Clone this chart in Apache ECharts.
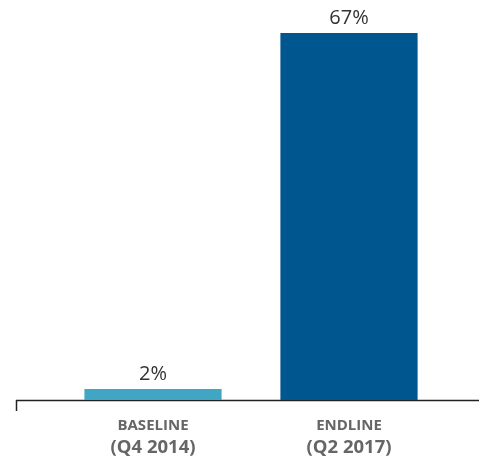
<!DOCTYPE html>
<html>
<head>
<meta charset="utf-8">
<script src="https://cdn.jsdelivr.net/npm/echarts@6/dist/echarts.min.js"></script>
<style>
  html, body { margin: 0; padding: 0; background: #fff; }
  #main { width: 479px; height: 458px; }
</style>
</head>
<body>
<div id="main"></div>
<script>
// 数据
var categories = ['BASELINE', 'ENDLINE'];
var periods = ['(Q4 2014)', '(Q2 2017)'];
var values = [2, 67];
var barColors = ['#41a5c4', '#00578f'];

var chartDom = document.getElementById('main');
var myChart = echarts.init(chartDom);
var option;

option = {
    animation: false,
    grid: {
        left: 55,
        right: 32,
        top: 33,
        bottom: 58
    },
    xAxis: {
        type: 'category',
        data: categories,
        axisLine: { show: false },
        axisTick: { show: false },
        axisLabel: {
            margin: 16,
            interval: 0,
            formatter: function (val, idx) {
                return '{a|' + val + '}\n{b|' + periods[idx] + '}';
            },
            rich: {
                a: {
                    fontFamily: 'Open Sans',
                    fontSize: 15,
                    fontWeight: 'bold',
                    color: '#666',
                    lineHeight: 20
                },
                b: {
                    fontFamily: 'Open Sans',
                    fontSize: 18.5,
                    fontWeight: 'bold',
                    color: '#666',
                    lineHeight: 23
                }
            }
        }
    },
    yAxis: {
        type: 'value',
        min: 0,
        max: 67,
        show: false
    },
    series: [
        {
            type: 'bar',
            barWidth: '70%',
            data: values.map(function (v, i) {
                return { value: v, itemStyle: { color: barColors[i] } };
            }),
            label: {
                show: true,
                position: 'top',
                distance: 5,
                formatter: '{c}%',
                fontFamily: 'Open Sans',
                fontSize: 20,
                color: '#333'
            }
        }
    ],
    // 底部的轴线（比类目区域更宽）
    graphic: [
        {
            type: 'line',
            shape: { x1: 16, y1: 400.5, x2: 479, y2: 400.5 },
            style: { stroke: '#222', lineWidth: 1.5 }
        },
        {
            type: 'line',
            shape: { x1: 16.5, y1: 400, x2: 16.5, y2: 411 },
            style: { stroke: '#222', lineWidth: 1.5 }
        }
    ]
};
option && myChart.setOption(option);
</script>
</body>
</html>
